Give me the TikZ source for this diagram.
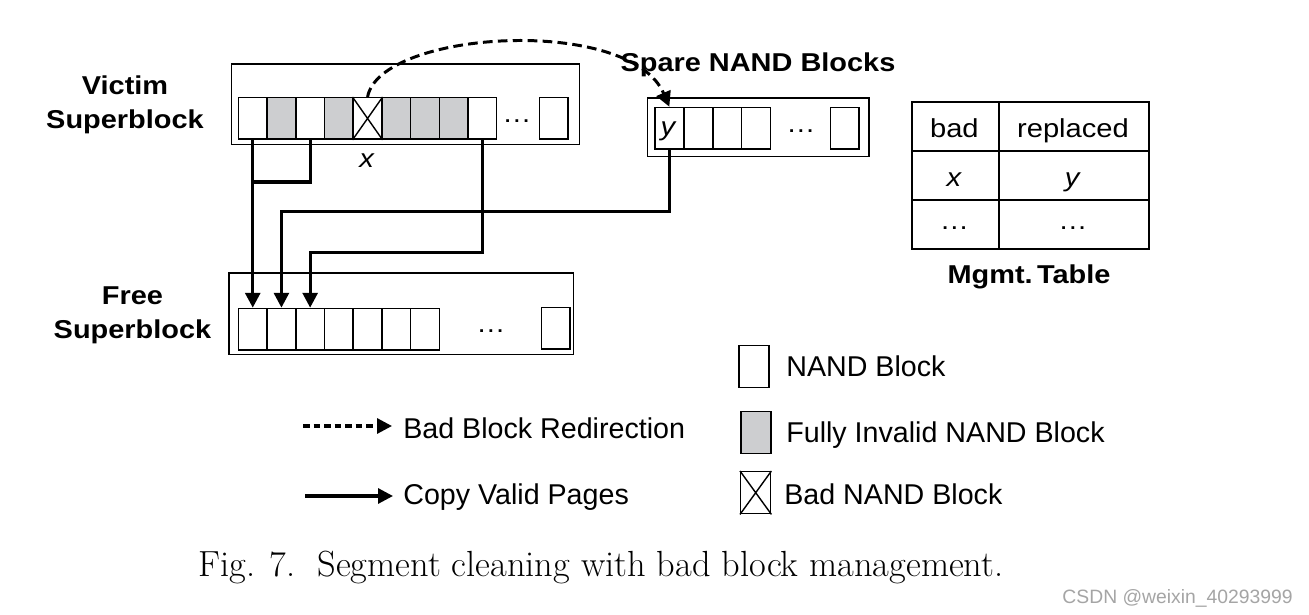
\documentclass[tikz,border=0pt]{standalone}
\usepackage{fontspec}
\setsansfont{Liberation Sans}[FakeStretch=1.12]
\newfontfamily\plainsans{Liberation Sans}
\usepackage{tikz}
\usetikzlibrary{arrows.meta}
\definecolor{invalidgray}{RGB}{205,206,208}
\definecolor{markgray}{RGB}{165,165,165}
\newcommand{\lblfont}{\sffamily\bfseries\fontsize{14.7}{19.3}\selectfont}
\newcommand{\txtfont}{\sffamily\fontsize{14.8}{17}\selectfont}
\newcommand{\legfont}{\plainsans\fontsize{16.3}{19}\selectfont}

\begin{document}
\begin{tikzpicture}[x=0.02cm, y=-0.02cm,
        thin/.style={line width=0.8pt},
        frame/.style={draw, thin, inner sep=0pt, anchor=north west},
        blk/.style={draw, thin, fill=white, minimum width=0.574cm, minimum height=0.83cm, inner sep=0pt, anchor=north west},
        cell/.style={draw, line width=1.1pt, minimum height=0.98cm, inner sep=0pt, anchor=north west},
        copyline/.style={line width=1.8pt},
        copyarrow/.style={copyline, -{Triangle[length=8.5pt,width=8.5pt]}},
        redirect/.style={line width=1.7pt, dash pattern=on 5.5pt off 3pt, -{Triangle[length=8.5pt,width=8.5pt]}},
        keyredirect/.style={line width=1.8pt, dash pattern=on 3.8pt off 2.2pt, -{Triangle[length=8.5pt,width=8.5pt]}},
        lbl/.style={font=\lblfont, inner sep=0pt},
        txt/.style={font=\txtfont, inner sep=0pt},
        leg/.style={font=\legfont, inner sep=0pt, anchor=base west}]
        \path[use as bounding box, fill=white] (0,0) rectangle (1309,615);

        \node[frame, minimum width=6.96cm, minimum height=1.614cm] (victim) at (231,63.3) {};
        \node[frame, minimum width=4.432cm, minimum height=1.174cm] (spare) at (646.7,97.3) {};
        \node[frame, minimum width=6.894cm, minimum height=1.634cm] (free) at (228.3,272.3) {};

        \foreach \i/\c in {1/white,2/invalidgray,3/white,4/invalidgray,5/white,6/invalidgray,7/invalidgray,8/invalidgray,9/white}
            \node[blk, fill=\c] (V\i) at ({237.7+28.7*(\i-1)},97) {};
        \draw[thin] (V5.north west) -- (V5.south east) (V5.north east) -- (V5.south west);
        \node[txt] (Vdots) at (517,121) {…};
        \node[blk] (Vend) at (538.5,97) {};
        \node[txt, anchor=base] (xlabel) at (367,168) {\textit{x}};

        \foreach \i in {1,...,4}
            \node[blk] (S\i) at ({654.3+28.9*(\i-1)},106.7) {};
        \node[txt, anchor=base] (ylabel) at (668.7,135) {\textit{y}};
        \node[txt] (Sdots) at (801,131) {…};
        \node[blk] (Send) at (829.5,106.7) {};

        \foreach \i in {1,...,7}
            \node[blk] (F\i) at ({237.7+28.7*(\i-1)},307.7) {};
        \node[txt] (Fdots) at (491,331) {…};
        \node[blk] (Fend) at (540.5,306.7) {};

        \node[lbl, align=center] (victimlbl) at (125,104.5) {Victim\\Superblock};
        \node[lbl, align=center] (freelbl) at (132.5,315.2) {Free\\Superblock};
        \node[lbl, anchor=base] (sparelbl) at (758,72) {Spare NAND Blocks};

        \coordinate (J1) at (0,182);
        \coordinate (J2) at (0,211.7);
        \coordinate (J3) at (0,252.7);
        \draw[copyline] (V3.south) |- (V1.south |- J1);
        \draw[copyarrow] (V1.south) -- (F1.north);
        \draw[copyarrow] (S1.south) |- (F2.north |- J2) -- (F2.north);
        \draw[copyarrow] (V9.south) |- (F3.north |- J3) -- (F3.north);
        \draw[redirect] (V5.north) .. controls (380,30) and (630,15) .. (S1.north);

        \foreach \r/\y in {1/101,2/150,3/199} {
            \node[cell, minimum width=1.734cm] (A\r) at (911,\y) {};
            \node[cell, minimum width=3.012cm] (B\r) at (997.7,\y) {};
        }
        \node[txt, anchor=base] (bad) at (954.4,137.7) {bad};
        \node[txt, anchor=base] (replaced) at (1073,137.7) {replaced};
        \node[txt, anchor=base] (tabx) at (954.4,186.7) {\textit{x}};
        \node[txt, anchor=base] (taby) at (1073,186.7) {\textit{y}};
        \node[txt, anchor=base] (dotsA) at (954.4,229) {…};
        \node[txt, anchor=base] (dotsB) at (1073,229) {…};
        \node[lbl, anchor=base] (mgmt) at (1029,283.3) {Mgmt.\,Table};

        \coordinate (redA) at (303,426);
        \coordinate (redB) at (392,426);
        \coordinate (copA) at (305,496);
        \coordinate (copB) at (393,496);
        \draw[keyredirect] (redA) -- (redB);
        \draw[copyarrow] (copA) -- (copB);
        \node[leg] (redtext) at (403,438) {Bad Block Redirection};
        \node[leg] (coptext) at (403,504) {Copy Valid Pages};

        \node[blk, minimum width=0.6cm, minimum height=0.84cm] (keynand) at (738.3,345) {};
        \node[blk, minimum width=0.6cm, minimum height=0.84cm, fill=invalidgray] (keyinv) at (740.3,411) {};
        \node[blk, minimum width=0.6cm, minimum height=0.84cm] (keybad) at (740,471) {};
        \draw[thin] (keybad.north west) -- (keybad.south east) (keybad.north east) -- (keybad.south west);
        \node[leg] (nandtext) at (786,376) {NAND Block};
        \node[leg] (invtext) at (786,442) {Fully Invalid NAND Block};
        \node[leg] (badtext) at (784,504) {Bad NAND Block};

        \node[anchor=base west, inner sep=0pt, font=\fontsize{20.7}{24}\selectfont] (caption) at (198,576) {Fig. 7.\ \ Segment cleaning with bad block management.};
        \node[anchor=base east, inner sep=0pt, text=markgray, font=\plainsans\fontsize{11}{13}\selectfont] (mark) at (1293,603) {CSDN @weixin\_40293999};
    \end{tikzpicture}
\end{document}
